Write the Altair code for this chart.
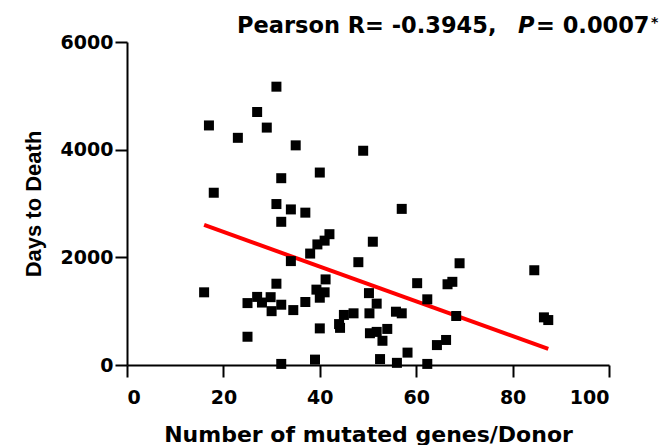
import altair as alt
import pandas as pd

# Number of mutated genes per donor (x) and days to death (y)
genes = [17, 18, 16, 23, 25, 25, 27, 27, 28, 29, 29.8, 30, 31, 31, 31, 32, 32, 32, 32,
         34, 34, 34.5, 35, 37, 37, 38, 39.3, 39.5, 39, 40, 40, 40, 41, 41.2, 41, 42,
         44, 44.2, 45, 47, 48, 49, 50.2, 50.3, 50.4, 51, 51.8, 51.8, 52.5, 53, 54,
         55.8, 57, 56, 57, 58.2, 60.2, 62.3, 62.3, 64.3, 66.2, 66.5, 67.5, 68.3, 69,
         84.5, 86.5, 87.4]
days = [4450, 3200, 1350, 4220, 1150, 525, 4700, 1265, 1160, 4410, 1260, 1000, 5170,
        2990, 1510, 3470, 2660, 1120, 20, 2890, 1930, 1020, 4080, 2830, 1170, 2070,
        1400, 2240, 100, 3575, 1250, 680, 1350, 1590, 2310, 2430, 760, 690, 930, 960,
        1910, 3980, 1335, 960, 590, 2290, 1140, 615, 110, 450, 670, 990, 960, 40, 2900,
        230, 1520, 1220, 20, 370, 465, 1500, 1545, 910, 1890, 1760, 885, 835]

x_ticks = [0, 20, 40, 60, 80, 100]
y_ticks = [0, 2000, 4000, 6000]

title_main = "Pearson R= -0.3945,"
title_p = "P"
title_val = "= 0.0007"
title_star = "*"

df = pd.DataFrame({"genes": genes, "days": days})

W, H = 482, 323

axis_common = dict(
    domainColor="black", domainWidth=2, tickColor="black", tickWidth=2,
    tickSize=12, grid=False, labelFont="DejaVu Sans", labelFontWeight="bold",
    labelFontSize=19, labelColor="black", titleColor="black",
    titleFontWeight="bold", format="d",
)

x_enc = alt.X("genes:Q", scale=alt.Scale(domain=[0, 100], nice=False),
              axis=alt.Axis(values=x_ticks, title="Number of mutated genes/Donor",
                            labelPadding=11, titleFont="DejaVu Sans", titleFontSize=22,
                            titleBaseline="alphabetic", titleY=76, **axis_common))
y_enc = alt.Y("days:Q", scale=alt.Scale(domain=[0, 6000], nice=False),
              axis=alt.Axis(values=y_ticks, title="Days to Death", labelPadding=2,
                            titleFont="Liberation Sans", titleFontSize=22,
                            titleBaseline="alphabetic", titleAngle=270, titleX=-87,
                            titleY=H / 2, titleAlign="center", **axis_common))

base = alt.Chart(df)
line = base.transform_regression("genes", "days").mark_line(
    color="#ff0000", strokeWidth=4).encode(x=x_enc, y=y_enc)
points = base.mark_square(size=100, color="black", opacity=1).encode(x=x_enc, y=y_enc)


def txt(s, x, y, size=22.5, style="normal"):
    return alt.Chart(pd.DataFrame({"t": [s]})).mark_text(
        align="left", baseline="alphabetic", font="DejaVu Sans", fontWeight="bold",
        fontSize=size, fontStyle=style, color="black"
    ).encode(text="t:N", x=alt.value(x), y=alt.value(y))


t1 = txt(title_main, 110, -8.6)
t2 = txt(title_p, 391, -8.6, style="italic")
t3 = txt(title_val, 409, -8.6)
t4 = txt(title_star, 524, -15, size=14)

chart = alt.layer(line, points, t1, t2, t3, t4).properties(
    width=W, height=H,
    autosize=alt.AutoSizeParams(type="none"),
    padding={"left": 119, "top": 34, "right": 50, "bottom": 80},
).configure_view(stroke=None)

chart.save("out.html", embed_options={"renderer": "svg", "actions": False})
